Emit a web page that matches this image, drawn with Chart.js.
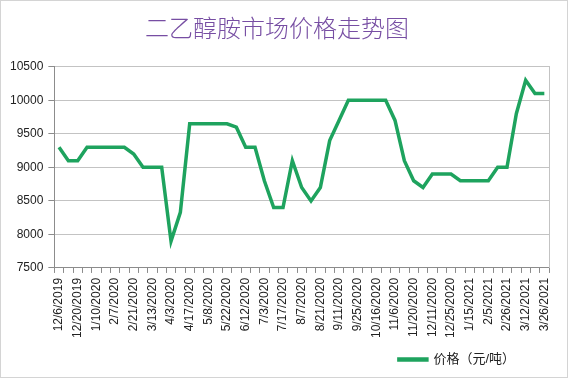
<!DOCTYPE html>
<html>
<head>
<meta charset="utf-8">
<script src="https://cdn.jsdelivr.net/npm/chart.js@4/dist/chart.umd.min.js"></script>
<style>
  body { margin: 0; background: #fff; }
  .frame { width: 566px; height: 376px; border: 1px solid #d4d4d4; }
</style>
</head>
<body>
<div class="frame"><canvas id="price-chart" width="566" height="376"></canvas></div>
<script>
// weekly price quotes, every other date is shown on the axis
const dates = [
    '12/6/2019', '12/13/2019', '12/20/2019', '1/3/2020', '1/10/2020', '1/17/2020', '2/7/2020', '2/14/2020',
    '2/21/2020', '3/6/2020', '3/13/2020', '3/27/2020', '4/3/2020', '4/10/2020', '4/17/2020', '4/30/2020',
    '5/8/2020', '5/15/2020', '5/22/2020', '6/5/2020', '6/12/2020', '6/24/2020', '7/3/2020', '7/10/2020',
    '7/17/2020', '7/31/2020', '8/7/2020', '8/14/2020', '8/21/2020', '9/4/2020', '9/11/2020', '9/18/2020',
    '9/25/2020', '10/9/2020', '10/16/2020', '10/30/2020', '11/6/2020', '11/13/2020', '11/20/2020', '12/4/2020',
    '12/11/2020', '12/18/2020', '12/25/2020', '1/8/2021', '1/15/2021', '1/29/2021', '2/5/2021', '2/19/2021',
    '2/26/2021', '3/5/2021', '3/12/2021', '3/19/2021', '3/26/2021'
];
const prices = [
    9300, 9100, 9100, 9300, 9300, 9300, 9300, 9300,
    9200, 9000, 9000, 9000, 7900, 8330, 9650, 9650,
    9650, 9650, 9650, 9600, 9300, 9300, 8800, 8400,
    8400, 9100, 8700, 8500, 8700, 9400, 9700, 10000,
    10000, 10000, 10000, 10000, 9700, 9100, 8800, 8700,
    8900, 8900, 8900, 8800, 8800, 8800, 8800, 9000,
    9000, 9800, 10300, 10100, 10100
];
const yTicks = [7500, 8000, 8500, 9000, 9500, 10000, 10500];
const seriesName = '价格（元/吨）';
const chartTitle = '二乙醇胺市场价格走势图';

const font = "'Liberation Sans', Arial, 'Noto Sans CJK SC', sans-serif";

// push the legend toward the bottom right like the original
const legendShift = {
    id: 'legendShift',
    afterLayout(chart) {
        chart.legend.right -= 24;
    }
};

new Chart(document.getElementById('price-chart'), {
    type: 'line',
    data: {
        labels: dates,
        datasets: [{
            label: seriesName,
            data: prices,
            borderColor: '#1ea35e',
            backgroundColor: '#1ea35e',
            borderWidth: 3.5,
            pointRadius: 0,
            tension: 0,
            yAxisID: 'y'
        }]
    },
    options: {
        responsive: false,
        animation: false,
        layout: { padding: { left: 4, right: 18, top: 0, bottom: 1 } },
        plugins: {
            title: {
                display: true,
                text: chartTitle,
                color: '#774ea3',
                font: { family: "'Noto Sans CJK SC', sans-serif", size: 24, weight: '300' },
                padding: { top: 12, bottom: 25 }
            },
            legend: {
                position: 'bottom',
                align: 'end',
                labels: {
                    boxWidth: 28,
                    boxHeight: 1,
                    color: '#222',
                    font: { family: font, size: 13 },
                    padding: 10
                }
            },
            tooltip: { enabled: false }
        },
        scales: {
            x: {
                offset: true,
                grid: {
                    drawOnChartArea: false,
                    offset: true,
                    tickLength: 5,
                    tickColor: '#8c8c8c'
                },
                border: { color: '#8c8c8c' },
                ticks: {
                    autoSkip: false,
                    minRotation: 90,
                    maxRotation: 90,
                    padding: 5,
                    color: '#222',
                    font: { family: font, size: 12 },
                    callback: function (val, i) {
                        return i % 2 === 0 ? this.getLabelForValue(val) : '';
                    }
                }
            },
            y: {
                min: yTicks[0],
                max: yTicks[yTicks.length - 1],
                afterBuildTicks: (axis) => { axis.ticks = yTicks.map(v => ({ value: v })); },
                grid: { color: '#c3c3c3', tickLength: 6, tickColor: '#8c8c8c' },
                border: { color: '#8c8c8c' },
                ticks: {
                    padding: 5,
                    color: '#222',
                    font: { family: font, size: 12 },
                    callback: (v) => String(v)
                }
            },
            yRight: {
                position: 'right',
                min: yTicks[0],
                max: yTicks[yTicks.length - 1],
                grid: { drawOnChartArea: false, drawTicks: false },
                border: { color: '#c3c3c3' },
                ticks: { display: false }
            }
        }
    },
    plugins: [legendShift]
});
</script>
</body>
</html>
